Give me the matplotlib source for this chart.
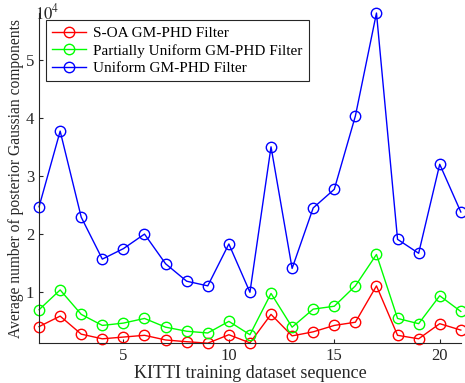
import matplotlib.pyplot as plt
from matplotlib.ticker import FixedLocator

plt.rcParams['font.family'] = ['Liberation Serif', 'DejaVu Serif']
plt.rcParams['mathtext.fontset'] = 'stix'

# KITTI sequence index
seq = list(range(1, 22))

# average number of posterior Gaussian components, in units of 10^4
soa = [0.41, 0.59, 0.28, 0.20, 0.23, 0.26, 0.18, 0.15, 0.125, 0.27, 0.13,
       0.62, 0.25, 0.32, 0.43, 0.485, 1.11, 0.26, 0.20, 0.46, 0.35]
partial = [0.70, 1.04, 0.62, 0.43, 0.47, 0.55, 0.40, 0.33, 0.30, 0.50, 0.27,
           0.98, 0.40, 0.71, 0.76, 1.11, 1.65, 0.55, 0.46, 0.94, 0.67]
uniform = [2.47, 3.77, 2.29, 1.57, 1.75, 2.00, 1.49, 1.19, 1.11, 1.83, 1.00,
           3.50, 1.41, 2.45, 2.77, 4.03, 5.80, 1.91, 1.67, 3.20, 2.38]

labels = ['S-OA GM-PHD Filter', 'Partially Uniform GM-PHD Filter', 'Uniform GM-PHD Filter']

fig = plt.figure(figsize=(4.65, 3.83), dpi=100)
ax = fig.add_axes([0.084, 0.104, 0.907, 0.862])

ax.plot(seq, soa, 'r-o', mfc='none', ms=7.5, lw=1, label=labels[0], clip_on=False)
ax.plot(seq, partial, '-o', color='#00ff00', mfc='none', ms=7.5, lw=1, label=labels[1], clip_on=False)
ax.plot(seq, uniform, 'b-o', mfc='none', ms=7.5, lw=1, label=labels[2], clip_on=False)

ax.set_xlim(1, 21)
ax.set_ylim(min(soa), max(uniform))
ax.xaxis.set_major_locator(FixedLocator([5, 10, 15, 20]))
ax.yaxis.set_major_locator(FixedLocator([1, 2, 3, 4, 5]))
ax.tick_params(direction='in', labelsize=12, length=3, color='#262626', labelcolor='#262626')
ax.spines['top'].set_visible(False)
ax.spines['right'].set_visible(False)
for s in ['left', 'bottom']:
    ax.spines[s].set_color('#262626')

ax.text(-0.01, 1.0, '$10^4$', transform=ax.transAxes, ha='left', va='center',
        fontsize=12, color='#262626')

ax.set_xlabel('KITTI training dataset sequence', fontsize=13, labelpad=1, color='#262626')
ax.set_ylabel('Average number of posterior Gaussian components', fontsize=11.2, labelpad=1, color='#262626')

leg = ax.legend(loc='upper left', bbox_to_anchor=(0.016, 0.978), fontsize=11, fancybox=False,
                edgecolor='#262626', framealpha=1, borderpad=0.4, labelspacing=0.25,
                handlelength=2.2, handletextpad=0.5, borderaxespad=0.0)
leg.get_frame().set_linewidth(0.8)

fig.savefig('out.png', dpi=100)
